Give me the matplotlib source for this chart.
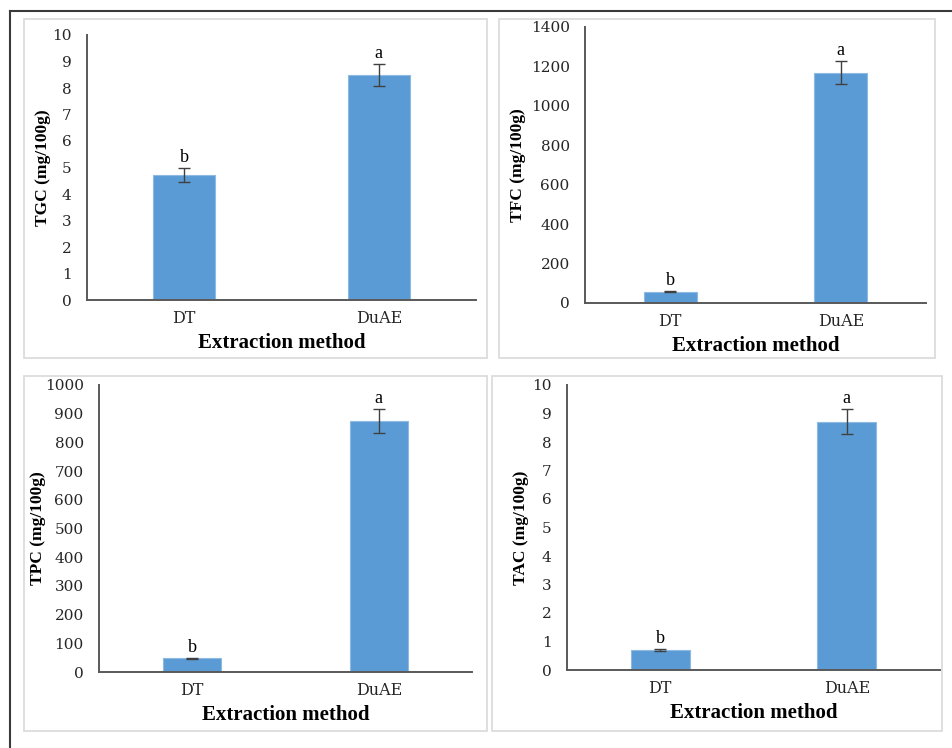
import matplotlib.pyplot as plt
import matplotlib.patches as mpatches
from matplotlib.lines import Line2D

plt.rcParams['font.family'] = ['Liberation Serif', 'DejaVu Serif']

methods = ["DT", "DuAE"]
letters = ["b", "a"]

tgc = [4.72, 8.49]
tgc_err = [0.25, 0.42]
tfc = [57, 1168]
tfc_err = [3, 59]
tpc = [48, 875]
tpc_err = [2, 42]
tac = [0.70, 8.71]
tac_err = [0.03, 0.44]

W, H = 952, 748
fig = plt.figure(figsize=(W / 100, H / 100), dpi=100)


def px_axes(left, right, top, bottom):
    return fig.add_axes([left / W, 1 - bottom / H, (right - left) / W, (bottom - top) / H])


def px_box(left, right, top, bottom, color, lw):
    r = mpatches.Rectangle((left / W, 1 - bottom / H), (right - left) / W, (bottom - top) / H,
                           transform=fig.transFigure, fill=False, edgecolor=color, linewidth=lw)
    fig.add_artist(r)


# outer frame (only left and top visible)
fig.add_artist(Line2D([10 / W, 10 / W], [0, 1 - 11 / H], transform=fig.transFigure,
                      color="#3a3a3a", linewidth=1.5))
fig.add_artist(Line2D([10 / W, 1], [1 - 11 / H, 1 - 11 / H], transform=fig.transFigure,
                      color="#3a3a3a", linewidth=1.5))

# panel frames
px_box(24, 487, 19, 358, "#d9d9d9", 1.2)
px_box(499, 935, 19, 358, "#d9d9d9", 1.2)
px_box(24, 487, 376, 731, "#d9d9d9", 1.2)
px_box(492, 942, 376, 731, "#d9d9d9", 1.2)

panels = [
    # (axes px box, values, errors, ylabel, ymax, ystep, width, xlab y, ylab x)
    ((87, 476, 35, 300), tgc, tgc_err, "TGC (mg/100g)", 10, 1, 0.32, -0.162, -0.113),
    ((585, 926, 27, 303), tfc, tfc_err, "TFC (mg/100g)", 1400, 200, 0.31, -0.156, -0.197),
    ((99, 472, 385, 672), tpc, tpc_err, "TPC (mg/100g)", 1000, 100, 0.31, -0.15, -0.163),
    ((567, 940, 385, 670), tac, tac_err, "TAC (mg/100g)", 10, 1, 0.315, -0.15, -0.123),
]

for box, vals, errs, ylab, ymax, ystep, bw, xly, ylx in panels:
    ax = px_axes(*box)
    x = list(range(len(methods)))
    ax.bar(x, vals, width=bw, color="#5b9bd5", edgecolor="#8db9e3", linewidth=0.8, zorder=2)
    ax.errorbar(x, vals, yerr=errs, fmt="none", ecolor="#404040", elinewidth=1,
                capsize=4, capthick=1, zorder=3)
    for xi, v, e, lt in zip(x, vals, errs, letters):
        ax.annotate(lt, (xi, v + e), xytext=(0, 1.5), textcoords="offset points",
                    ha="center", va="bottom", fontsize=13)
    ax.set_xlim(-0.5, 1.5)
    ax.set_ylim(0, ymax)
    ax.set_yticks(range(0, ymax + 1, ystep))
    ax.set_xticks(x)
    ax.set_xticklabels(methods)
    ax.tick_params(axis="y", length=0, pad=11, labelsize=11, labelcolor="#262626")
    ax.tick_params(axis="x", length=0, pad=7, labelsize=11.5, labelcolor="#262626")
    for lab in ax.get_xticklabels() + ax.get_yticklabels():
        lab.set_family("DejaVu Serif")
    for s in ["top", "right"]:
        ax.spines[s].set_visible(False)
    for s in ["left", "bottom"]:
        ax.spines[s].set_color("#595959")
        ax.spines[s].set_linewidth(1.4)
    ax.set_xlabel("Extraction method", fontsize=15, fontweight="bold")
    ax.xaxis.set_label_coords(0.5, xly)
    ax.xaxis.label.set_va("center")
    ax.set_ylabel(ylab, fontsize=12.5, fontweight="bold")
    ax.yaxis.set_label_coords(ylx, 0.5)
    ax.yaxis.label.set_va("center")
    ax.patch.set_alpha(0)

fig.savefig("out.png", dpi=100)
